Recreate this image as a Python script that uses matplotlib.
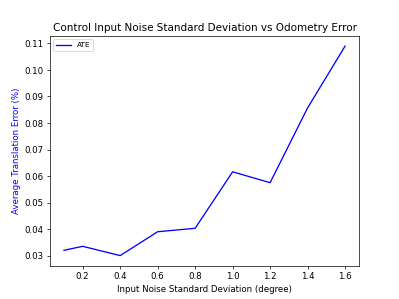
import matplotlib
matplotlib.use('Agg')
import matplotlib.pyplot as plt

# noise std (degree) vs average translation error
noise_std = [0.1, 0.2, 0.4, 0.6, 0.8, 1.0, 1.2, 1.4, 1.6]
ate = [0.0320, 0.0335, 0.0300, 0.0390, 0.0403, 0.0616, 0.0575, 0.0857, 0.1090]

fig, ax = plt.subplots(figsize=(6.4, 4.8))
ax.plot(noise_std, ate, color='blue', label='ATE')
ax.set_xlabel('Input Noise Standard Deviation (degree)')
ax.set_ylabel('Average Translation Error (%)', color='blue')
ax.set_title('Control Input Noise Standard Deviation vs Odometry Error')
ax.legend(loc='upper left', fontsize='small')

fig.savefig('out.png', dpi=62.35)
